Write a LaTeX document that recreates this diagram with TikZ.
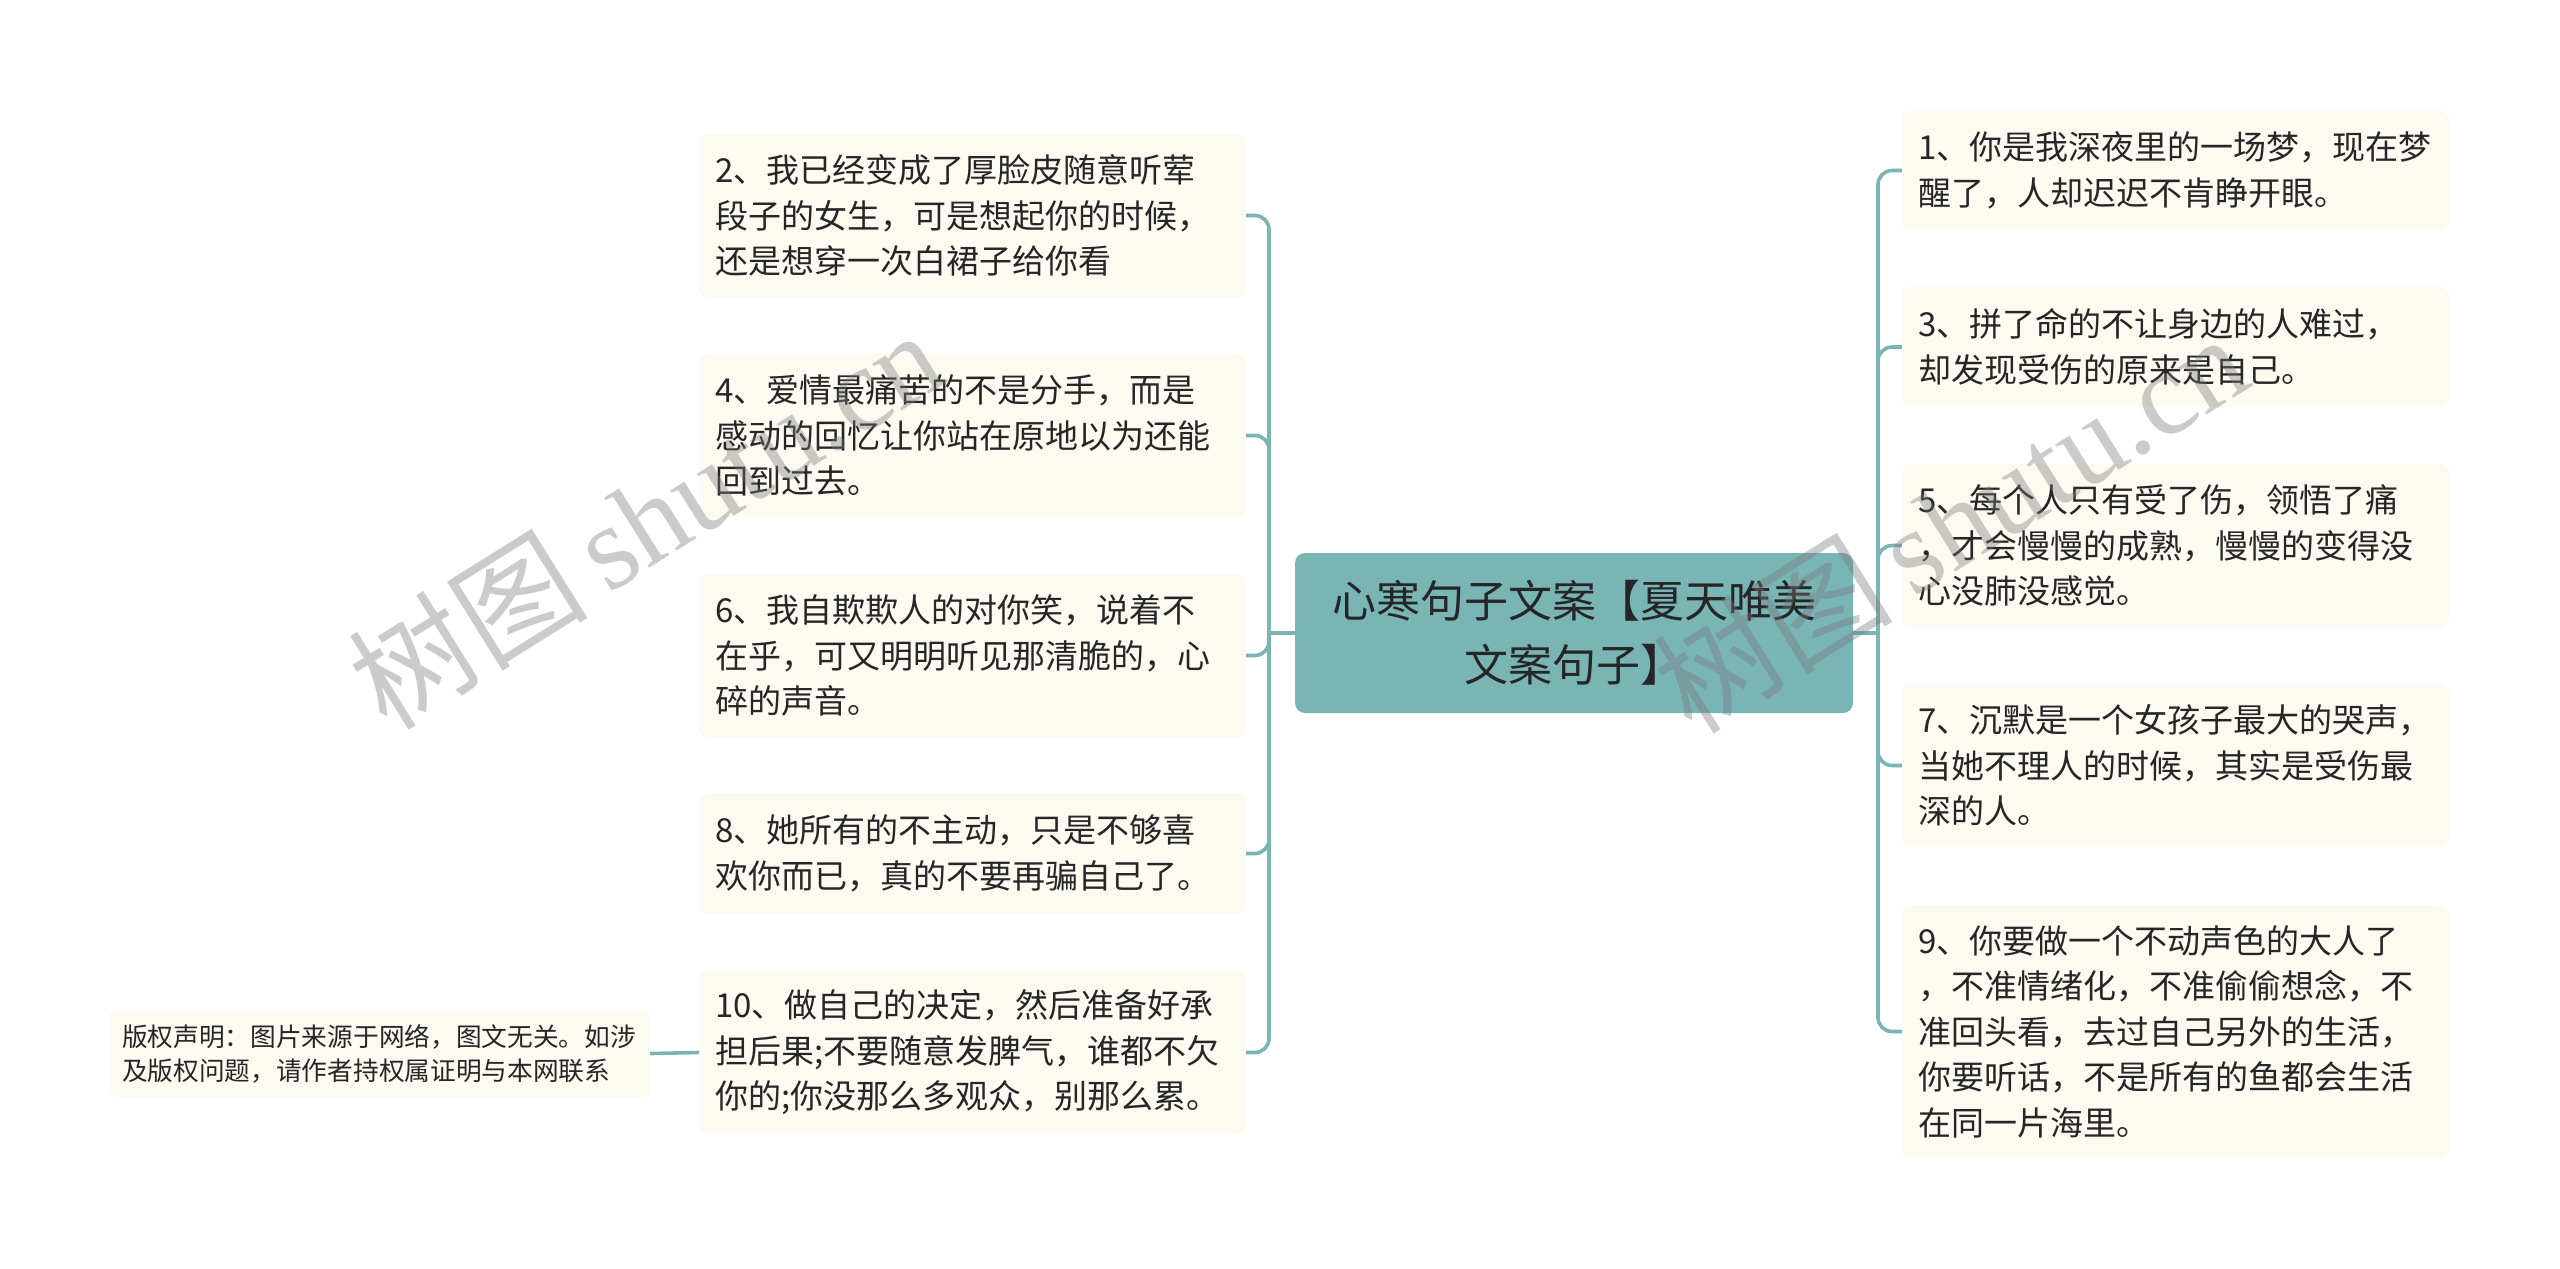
\documentclass[tikz,border=0pt]{standalone}
\usepackage{fontspec}
\setmainfont{Noto Sans CJK SC}
\newfontfamily\wmserif{Liberation Serif}
\newfontfamily\wmcjk{Noto Sans CJK SC}
\definecolor{tealc}{RGB}{122,181,182}
\definecolor{creamc}{RGB}{252,250,241}
\definecolor{txtc}{RGB}{38,38,38}
\definecolor{wmc}{RGB}{120,120,120}
\tikzset{
  leaf/.style={rectangle, rounded corners=9pt, fill=creamc, text=txtc,
    text width=515pt, align=left, inner xsep=16pt, inner ysep=0pt,
    font=\fontsize{33}{45.5}\selectfont},
  rootbox/.style={rectangle, rounded corners=10pt, fill=tealc, text=txtc,
    text width=530pt, align=center, inner xsep=14pt, inner ysep=0pt,
    minimum height=160pt, font=\fontsize{44}{64}\selectfont},
  notebox/.style={rectangle, rounded corners=9pt, fill=creamc, text=txtc,
    text width=515pt, align=left, inner xsep=13pt, inner ysep=0pt,
    minimum height=87pt, font=\fontsize{25.7}{34}\selectfont},
  link/.style={draw=tealc, line width=3.6pt, rounded corners=14pt},
  wm/.style={text=wmc, opacity=0.38, rotate=32, inner sep=0pt}
}
\begin{document}
\begin{tikzpicture}[x=1pt,y=-1pt]
\fill[white] (0,0) rectangle (2560,1269);
\useasboundingbox (0,0) rectangle (2560,1269);

% root
\node[rootbox] (root) at (1574,633) {心寒句子文案【夏天唯美\\文案句子】};

% left leaves
\node[leaf, minimum height=163pt] (n2) at (972.5,215.5) {2、我已经变成了厚脸皮随意听荤\\段子的女生，可是想起你的时候，\\还是想穿一次白裙子给你看};
\node[leaf, minimum height=163pt] (n4) at (972.5,435.5) {4、爱情最痛苦的不是分手，而是\\感动的回忆让你站在原地以为还能\\回到过去。};
\node[leaf, minimum height=163pt] (n6) at (972.5,655.5) {6、我自欺欺人的对你笑，说着不\\在乎，可又明明听见那清脆的，心\\碎的声音。};
\node[leaf, minimum height=121pt] (n8) at (972.5,853.5) {8、她所有的不主动，只是不够喜\\欢你而已，真的不要再骗自己了。};
\node[leaf, minimum height=163pt] (n10) at (972.5,1052.5) {10、做自己的决定，然后准备好承\\担后果;不要随意发脾气，谁都不欠\\你的;你没那么多观众，别那么累。};

% right leaves
\node[leaf, minimum height=119pt] (n1) at (2175.5,170.5) {1、你是我深夜里的一场梦，现在梦\\醒了，人却迟迟不肯睁开眼。};
\node[leaf, minimum height=120pt] (n3) at (2175.5,347) {3、拼了命的不让身边的人难过，\\却发现受伤的原来是自己。};
\node[leaf, minimum height=163pt] (n5) at (2175.5,545.5) {5、每个人只有受了伤，领悟了痛\\，才会慢慢的成熟，慢慢的变得没\\心没肺没感觉。};
\node[leaf, minimum height=163pt] (n7) at (2175.5,765.5) {7、沉默是一个女孩子最大的哭声，\\当她不理人的时候，其实是受伤最\\深的人。};
\node[leaf, minimum height=253pt] (n9) at (2175.5,1031.5) {9、你要做一个不动声色的大人了\\，不准情绪化，不准偷偷想念，不\\准回头看，去过自己另外的生活，\\你要听话，不是所有的鱼都会生活\\在同一片海里。};

% copyright note
\node[notebox] (cp) at (379.5,1053.5) {版权声明：图片来源于网络，图文无关。如涉\\及版权问题，请作者持权属证明与本网联系};

% trunks
\coordinate (tl) at (1269,633);
\coordinate (tr) at (1878,633);
\draw[link] (root.west) -- (tl);
\draw[link] (root.east) -- (tr);
\foreach \n in {n2,n4,n6,n8,n10}{
  \draw[link] (tl) -- (tl |- \n.east) -- (\n.east);
}
\foreach \n in {n1,n3,n5,n7,n9}{
  \draw[link] (tr) -- (tr |- \n.west) -- (\n.west);
}
\draw[link] (cp.east) -- (n10.west);

% watermarks
\node[wm] (wm1) at (645,518) {\fontsize{120}{120}\selectfont\wmcjk 树图\,\wmserif shutu.cn};
\node[wm] (wm2) at (1950,522) {\fontsize{120}{120}\selectfont\wmcjk 树图\,\wmserif shutu.cn};
\end{tikzpicture}
\end{document}
